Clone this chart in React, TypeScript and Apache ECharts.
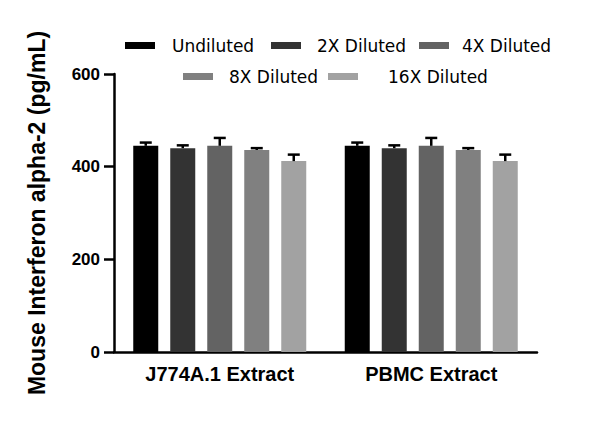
import React, { useEffect, useRef } from "react";
import * as echarts from "echarts";

const categories = ["J774A.1 Extract", "PBMC Extract"];
const seriesNames = ["Undiluted", "2X Diluted", "4X Diluted", "8X Diluted", "16X Diluted"];
const undilutedValues = [445, 445];
const diluted2xValues = [440, 440];
const diluted4xValues = [445, 445];
const diluted8xValues = [436, 436];
const diluted16xValues = [412, 412];
const undilutedErrors = [7, 7];
const diluted2xErrors = [6, 6];
const diluted4xErrors = [17, 17];
const diluted8xErrors = [4, 4];
const diluted16xErrors = [14, 14];
const yTicks = [0, 200, 400, 600];
const yTitle = "Mouse Interferon alpha-2 (pg/mL)";

const seriesColors = ["#000000", "#333333", "#636363", "#808080", "#a2a2a2"];
const valueLists = [undilutedValues, diluted2xValues, diluted4xValues, diluted8xValues, diluted16xValues];
const errorLists = [undilutedErrors, diluted2xErrors, diluted4xErrors, diluted8xErrors, diluted16xErrors];

const BAR_WIDTH = 25;
const BAR_GAP = 12;
const BOLD_FONT = "'Liberation Sans', Arial, sans-serif";
const LEGEND_FONT = "'DejaVu Sans', sans-serif";

// legend layout: [iconX, iconCenterY, textX]
const legendLayout = [
  [125, 45.5, 172],
  [271, 45.5, 317],
  [419, 45.5, 462],
  [183, 76.5, 229],
  [328, 76.5, 388],
];

export default function App() {
  const ref = useRef<HTMLDivElement>(null);
  useEffect(() => {
    if (!ref.current) return;
    const chart = echarts.init(ref.current, null, { renderer: "svg" });
    const n = seriesNames.length;
    const barSeries = seriesNames.map((name, i) => ({
      type: "bar",
      name,
      data: valueLists[i],
      barWidth: BAR_WIDTH,
      barGap: `${(BAR_GAP / BAR_WIDTH) * 100}%`,
      itemStyle: { color: seriesColors[i] },
      z: 2,
    }));
    const errSeries = seriesNames.map((name, i) => ({
      type: "custom",
      name: name + " error",
      data: categories.map((_, ci) => [ci, valueLists[i][ci], errorLists[i][ci]]),
      encode: { x: 0, y: 1 },
      z: 3,
      renderItem: (params: any, api: any) => {
        const ci = api.value(0);
        const v = api.value(1);
        const e = api.value(2);
        const base = api.coord([ci, v]);
        const top = api.coord([ci, v + e]);
        const x = base[0] + (i - (n - 1) / 2) * (BAR_WIDTH + BAR_GAP);
        const st = { stroke: "#000", lineWidth: 2.5 };
        return {
          type: "group",
          children: [
            { type: "line", shape: { x1: x, y1: base[1], x2: x, y2: top[1] }, style: st },
            { type: "line", shape: { x1: x - 6, y1: top[1], x2: x + 6, y2: top[1] }, style: st },
          ],
        };
      },
    }));
    const legendGraphics: any[] = [];
    seriesNames.forEach((name, i) => {
      const [ix, iy, tx] = legendLayout[i];
      legendGraphics.push({
        type: "rect",
        shape: { x: ix, y: iy - 3.5, width: 30, height: 7 },
        style: { fill: seriesColors[i] },
      });
      legendGraphics.push({
        type: "text",
        x: tx,
        y: iy,
        style: {
          text: name,
          fill: "#000",
          font: `17px ${LEGEND_FONT}`,
          textVerticalAlign: "middle",
          textAlign: "left",
        },
      });
    });
    chart.setOption({
      animation: false,
      backgroundColor: "#ffffff",
      grid: { left: 114, right: 63, top: 74, bottom: 73, outerBoundsMode: "none" },
      xAxis: {
        type: "category",
        data: categories,
        axisLine: { lineStyle: { color: "#000", width: 2.5 } },
        axisTick: { alignWithLabel: true, length: 8, lineStyle: { color: "#000", width: 2.5 } },
        axisLabel: { color: "#000", fontFamily: BOLD_FONT, fontWeight: "bold", fontSize: 20, margin: 12 },
      },
      yAxis: {
        type: "value",
        min: yTicks[0],
        max: yTicks[yTicks.length - 1],
        interval: yTicks[1] - yTicks[0],
        name: yTitle,
        nameLocation: "middle",
        nameGap: 66,
        nameTextStyle: { color: "#000", fontFamily: BOLD_FONT, fontWeight: "bold", fontSize: 23 },
        splitLine: { show: false },
        axisLine: { show: true, lineStyle: { color: "#000", width: 2.5 } },
        axisTick: { show: true, length: 10, lineStyle: { color: "#000", width: 2.5 } },
        axisLabel: { color: "#000", fontFamily: BOLD_FONT, fontWeight: "bold", fontSize: 17, margin: 14 },
      },
      graphic: legendGraphics,
      series: [...barSeries, ...errSeries],
    });
    return () => chart.dispose();
  }, []);
  return (
    <div
      ref={ref}
      style={{ position: "absolute", left: 0, top: 0, width: 600, height: 425 }}
    />
  );
}
